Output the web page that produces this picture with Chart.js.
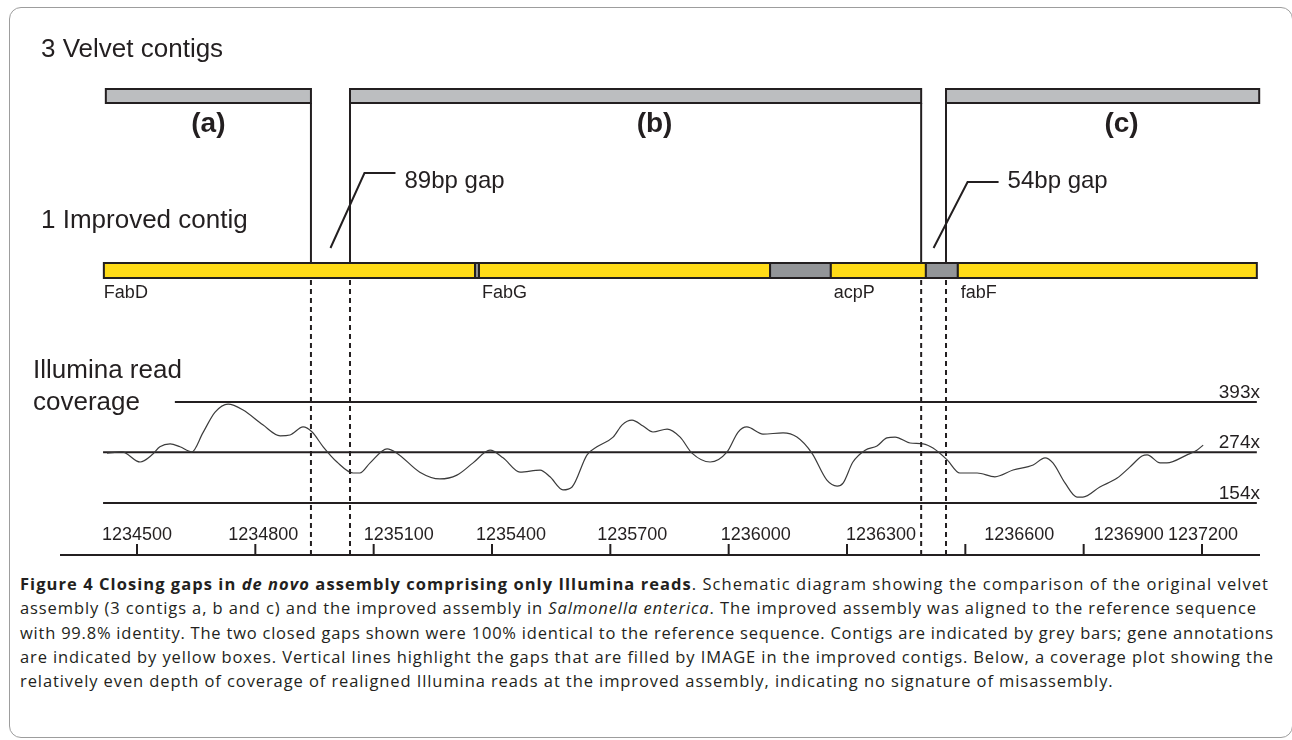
<!DOCTYPE html>
<html>
<head>
<meta charset="utf-8">
<title>Closing gaps in de novo assembly</title>
<script src="https://cdn.jsdelivr.net/npm/chart.js@4.4.1/dist/chart.umd.min.js"></script>
<style>
    html, body { margin: 0; padding: 0; background: #fff; }
    body { width: 1292px; height: 740px; position: relative; overflow: hidden; }
    #frame {
        position: absolute; left: 9px; top: 7px; width: 1284px; height: 731px;
        border: 1px solid #9d9d9d; border-radius: 12px; box-sizing: border-box;
    }
    #chartWrap { position: absolute; left: 0; top: 0; width: 1292px; height: 570px; }
    #caption {
        position: absolute; left: 20px; top: 572px;
        font-family: "Open Sans", sans-serif; font-size: 16.5px; line-height: 24.3px; color: #231f20;
    }
    #caption div { white-space: nowrap; }
    #caption span { display: inline-block; }
</style>
</head>
<body>
<div id="frame"></div>
<div id="chartWrap"><canvas id="figure" width="1292" height="570"></canvas></div>
<div id="caption">
    <div><span><b>Figure 4 Closing gaps in <i>de novo</i> assembly comprising only Illumina reads</b>. Schematic diagram showing the comparison of the original velvet</span></div>
    <div><span>assembly (3 contigs a, b and c) and the improved assembly in <i>Salmonella enterica</i>. The improved assembly was aligned to the reference sequence</span></div>
    <div><span>with 99.8% identity. The two closed gaps shown were 100% identical to the reference sequence. Contigs are indicated by grey bars; gene annotations</span></div>
    <div><span>are indicated by yellow boxes. Vertical lines highlight the gaps that are filled by IMAGE in the improved contigs. Below, a coverage plot showing the</span></div>
    <div><span>relatively even depth of coverage of realigned Illumina reads at the improved assembly, indicating no signature of misassembly.</span></div>
</div>
<script>
// genome position (bp) shown on the bottom ruler
const tickValues = [1234500, 1234800, 1235100, 1235400, 1235700, 1236000, 1236300, 1236600, 1236900, 1237200];

// velvet contigs (a), (b), (c)
const contigNames = ['(a)', '(b)', '(c)'];
const contigStart = [1234421, 1235040, 1236551];
const contigEnd = [1234941, 1236488, 1237345];
const contigLabelPos = [1234681, 1235812, 1236996];

// improved contig: genes and filled gaps
const segmentName = ['FabD', null, 'FabG', null, 'acpP', null, 'fabF'];
const segmentStart = [1234416, 1235357, 1235367, 1236105, 1236259, 1236500, 1236581];
const segmentEnd = [1235357, 1235367, 1236105, 1236259, 1236500, 1236581, 1237339];

const gapLabels = ['89bp gap', '54bp gap'];

// Illumina read coverage
const coveragePos = [1234424, 1234462, 1234508, 1234538, 1234558, 1234584, 1234609, 1234639, 1234667, 1234698,
    1234731, 1234769, 1234819, 1234863, 1234888, 1234921, 1234944, 1234972, 1235007, 1235048,
    1235065, 1235091, 1235134, 1235159, 1235217, 1235268, 1235311, 1235352, 1235395, 1235428,
    1235471, 1235522, 1235547, 1235580, 1235603, 1235641, 1235666, 1235707, 1235730, 1235755,
    1235783, 1235808, 1235844, 1235877, 1235907, 1235953, 1235996, 1236024, 1236046, 1236087,
    1236138, 1236173, 1236211, 1236249, 1236275, 1236290, 1236315, 1236346, 1236376, 1236401,
    1236422, 1236460, 1236493, 1236518, 1236554, 1236586, 1236630, 1236675, 1236721, 1236772,
    1236802, 1236822, 1236853, 1236883, 1236898, 1236941, 1236985, 1237017, 1237048, 1237061,
    1237094, 1237111, 1237162, 1237187, 1237203];
const coverageDepth = [272, 275, 251, 268, 287, 294, 287, 275, 320, 369,
    388, 374, 339, 313, 315, 334, 322, 287, 251, 225,
    225, 249, 282, 272, 227, 211, 220, 249, 279, 261,
    227, 232, 216, 185, 192, 268, 287, 310, 339, 350,
    336, 322, 329, 310, 272, 251, 275, 322, 334, 317,
    320, 310, 272, 208, 194, 201, 251, 279, 289, 308,
    310, 296, 294, 284, 256, 225, 225, 216, 232, 244,
    261, 249, 201, 168, 168, 192, 213, 239, 265, 268,
    249, 249, 268, 279, 291];

// reference depth lines
const refDepth = [393, 274, 154];
const refStart = [1234596, 1234414, 1234414];
const refEnd = [1237339, 1237339, 1237339];

// layout (track units = px from the top of the chart area)
const TRACK = { contigTop: 89, contigBottom: 103, contigLabel: 132, geneTop: 263, geneBottom: 278,
    geneLabel: 298, leaderFoot: 248, gapText: 188, ruler: 555, tickTop: 544, tickLabel: 540 };
const leaderElbow = [173, 182];
const tickLabelShift = [0, 8, 25, 19, 22, 27, 34, 54, 45, 1];

const INK = '#231f20';
const SANS = '"Liberation Sans", Arial, sans-serif';

const schematicPlugin = {
    id: 'schematic',
    afterDatasetsDraw(chart) {
        const { ctx, chartArea, scales } = chart;
        const X = v => scales.x.getPixelForValue(v);
        const Y = v => scales.yTrack.getPixelForValue(v);
        const C = v => scales.yCov.getPixelForValue(v);

        ctx.save();
        ctx.fillStyle = INK;
        ctx.strokeStyle = INK;
        ctx.textBaseline = 'alphabetic';

        // panel titles
        ctx.font = '26px ' + SANS;
        ctx.textAlign = 'left';
        ctx.fillText('3 Velvet contigs', 41, Y(57));
        ctx.fillText('1 Improved contig', 41, Y(228));
        ctx.fillText('Illumina read', 33, Y(378));
        ctx.fillText('coverage', 33, Y(410));

        // contig bars
        ctx.lineWidth = 2;
        contigStart.forEach((s, i) => {
            const x0 = X(s), x1 = X(contigEnd[i]);
            ctx.fillStyle = '#bcbec0';
            ctx.fillRect(x0, Y(TRACK.contigTop), x1 - x0, Y(TRACK.contigBottom) - Y(TRACK.contigTop));
            ctx.strokeRect(x0, Y(TRACK.contigTop), x1 - x0, Y(TRACK.contigBottom) - Y(TRACK.contigTop));
        });
        ctx.fillStyle = INK;
        ctx.font = 'bold 28px ' + SANS;
        ctx.textAlign = 'center';
        contigNames.forEach((n, i) => ctx.fillText(n, X(contigLabelPos[i]), Y(TRACK.contigLabel)));

        // gap edges: solid down to the improved contig, dashed down to the ruler
        const gapEdges = [];
        for (let i = 0; i < contigStart.length - 1; i++) {
            gapEdges.push(contigEnd[i], contigStart[i + 1]);
        }
        ctx.lineWidth = 2;
        gapEdges.forEach(e => {
            ctx.beginPath();
            ctx.moveTo(X(e), Y(TRACK.contigBottom));
            ctx.lineTo(X(e), Y(TRACK.geneTop));
            ctx.stroke();
        });
        ctx.setLineDash([5, 4]);
        gapEdges.forEach(e => {
            ctx.beginPath();
            ctx.moveTo(X(e), Y(TRACK.geneBottom) + 2);
            ctx.lineTo(X(e), Y(TRACK.ruler));
            ctx.stroke();
        });
        ctx.setLineDash([]);

        // gene / gap segments of the improved contig
        segmentStart.forEach((s, i) => {
            const x0 = X(s), x1 = X(segmentEnd[i]);
            ctx.fillStyle = segmentName[i] ? '#ffdb17' : '#939598';
            ctx.fillRect(x0, Y(TRACK.geneTop), x1 - x0, Y(TRACK.geneBottom) - Y(TRACK.geneTop));
            ctx.strokeRect(x0, Y(TRACK.geneTop), x1 - x0, Y(TRACK.geneBottom) - Y(TRACK.geneTop));
        });
        ctx.fillStyle = INK;
        ctx.font = '18px ' + SANS;
        ctx.textAlign = 'left';
        segmentName.forEach((n, i) => {
            if (n) ctx.fillText(n, X(segmentStart[i]) + (i ? 3 : 0), Y(TRACK.geneLabel));
        });

        // gap callouts
        ctx.lineWidth = 2;
        ctx.font = '24px ' + SANS;
        gapLabels.forEach((label, i) => {
            const mid = X((contigEnd[i] + contigStart[i + 1]) / 2);
            const ex = mid + 34;
            ctx.beginPath();
            ctx.moveTo(mid, Y(TRACK.leaderFoot));
            ctx.lineTo(ex, Y(leaderElbow[i]));
            ctx.lineTo(ex + 31, Y(leaderElbow[i]));
            ctx.stroke();
            ctx.fillText(label, ex + 40, Y(TRACK.gapText));
        });

        // depth labels
        ctx.font = '19px ' + SANS;
        ctx.textAlign = 'right';
        refDepth.forEach(d => ctx.fillText(d + 'x', chartArea.right - 2, C(d) - 4));

        // ruler
        ctx.lineWidth = 2;
        ctx.beginPath();
        ctx.moveTo(chartArea.left, Y(TRACK.ruler));
        ctx.lineTo(chartArea.right - 2, Y(TRACK.ruler));
        ctx.stroke();
        ctx.font = '18px ' + SANS;
        ctx.textAlign = 'center';
        tickValues.forEach((t, i) => {
            ctx.beginPath();
            ctx.moveTo(X(t), Y(TRACK.tickTop));
            ctx.lineTo(X(t), Y(TRACK.ruler));
            ctx.stroke();
            ctx.fillText(String(t), X(t) + tickLabelShift[i], Y(TRACK.tickLabel));
        });

        ctx.restore();
    }
};

const datasets = [{
    label: 'Coverage',
    data: coveragePos.map((p, i) => ({ x: p, y: coverageDepth[i] })),
    yAxisID: 'yCov',
    showLine: true,
    borderColor: '#3b3b3b',
    borderWidth: 1.2,
    pointRadius: 0,
    cubicInterpolationMode: 'monotone'
}];
refDepth.forEach((d, i) => {
    datasets.push({
        label: d + 'x',
        data: [{ x: refStart[i], y: d }, { x: refEnd[i], y: d }],
        yAxisID: 'yCov',
        showLine: true,
        borderColor: INK,
        borderWidth: 2,
        pointRadius: 0
    });
});

new Chart(document.getElementById('figure').getContext('2d'), {
    type: 'scatter',
    data: { datasets: datasets },
    options: {
        responsive: false,
        animation: false,
        devicePixelRatio: 1,
        layout: { padding: { left: 60, right: 30, top: 0, bottom: 14 } },
        scales: {
            x: { type: 'linear', min: 1234304.8, max: 1237352.1, display: false },
            yCov: { type: 'linear', min: 28.6, max: 1344.3, display: false },
            yTrack: { type: 'linear', min: 0, max: 556, reverse: true, display: false }
        },
        plugins: {
            legend: { display: false },
            tooltip: { enabled: false }
        }
    },
    plugins: [schematicPlugin]
});

// stretch the full caption lines to the width they have in the printed figure;
// the short last line takes the average spacing of the others
const captionWidths = [1249, 1237, 1254, 1254];
const spans = document.querySelectorAll('#caption span');
let spacingSum = 0;
captionWidths.forEach((target, i) => {
    const span = spans[i];
    const ls = (target - span.getBoundingClientRect().width) / span.textContent.length;
    span.style.letterSpacing = ls + 'px';
    spacingSum += ls;
});
spans[4].style.letterSpacing = (spacingSum / captionWidths.length) + 'px';
</script>
</body>
</html>
